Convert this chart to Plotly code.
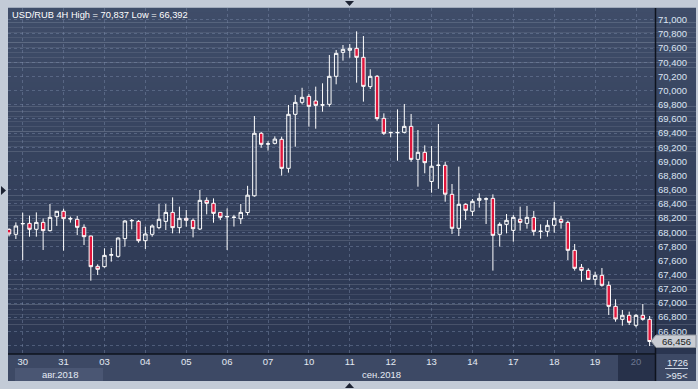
import plotly.graph_objects as go

# ---------------- data (4H bars, USD/RUB) ----------------
opens = [68040, 67970, 68118, 68125, 68041, 68139, 68022, 68219, 68295, 68195,
         68182, 68069, 67946, 67518, 67513, 67675, 67659, 67909, 68160, 68153,
         67880, 67970, 68064, 68153, 68280, 68064, 68196, 68168, 68045, 68450,
         68408, 68280, 68217, 68208, 68190, 68278, 68514, 69397, 69244, 69255,
         69312, 68902, 69665, 69834, 69919, 69853, 69795, 69806, 70202, 70540,
         70569, 70597, 70470, 70056, 70202, 69608, 69404, 69404, 69410, 69495,
         69029, 69128, 68717, 68943, 68945, 68535, 68055, 68394, 68295, 68450,
         68467, 68478, 67970, 68111, 68026, 68182, 68125, 68210, 68010, 68012,
         68097, 68182, 68139, 67744, 67504, 67461, 67334, 67391, 67250, 66953,
         66769, 66826, 66685, 66826, 66769]
highs = [68055, 68139, 68276, 68233, 68280, 68196, 68398, 68300, 68332, 68220,
         68229, 68111, 67950, 67546, 67772, 67777, 67927, 68172, 68186, 68172,
         68078, 68111, 68398, 68398, 68492, 68361, 68314, 68196, 68596, 68492,
         68478, 68285, 68337, 68245, 68398, 68655, 69641, 69415, 69286, 69354,
         69349, 69797, 69938, 70040, 69952, 70056, 70103, 70503, 70573, 70644,
         70658, 70837, 70771, 70301, 70220, 69679, 69420, 69735, 69811, 69670,
         69443, 69227, 69218, 69528, 68996, 68681, 68926, 68408, 68469, 68549,
         68492, 68535, 68139, 68257, 68243, 68361, 68370, 68300, 68111, 68172,
         68427, 68229, 68163, 67833, 67551, 67490, 67442, 67494, 67306, 67052,
         66901, 66878, 66845, 66986, 66816]
lows = [67940, 67904, 67607, 67937, 67937, 67749, 68010, 68088, 67739, 68135,
        67960, 67819, 67315, 67395, 67499, 67584, 67640, 67796, 68040, 67852,
        67763, 67937, 68041, 68031, 67984, 67984, 68078, 67927, 68031, 68252,
        68134, 68172, 67749, 68080, 68116, 68240, 68502, 69194, 69152, 69240,
        68799, 68841, 69208, 69806, 69491, 69462, 69702, 69773, 70089, 70423,
        70465, 70112, 69844, 70023, 69575, 69373, 69340, 69010, 69396, 68996,
        68643, 68832, 68558, 68613, 68431, 67975, 67946, 68172, 68229, 68347,
        68116, 67457, 67796, 67984, 67866, 68022, 68050, 67951, 67909, 67937,
        67993, 68050, 67607, 67457, 67302, 67325, 67254, 67231, 66830, 66736,
        66680, 66689, 66656, 66750, 66392]
closes = [67975, 68088, 68122, 68041, 68139, 68022, 68210, 68295, 68191, 68188,
          68069, 67937, 67513, 67476, 67673, 67682, 67918, 68158, 68166, 67880,
          67975, 68088, 68182, 68280, 68064, 68196, 68168, 68050, 68450, 68408,
          68266, 68210, 68221, 68212, 68280, 68523, 69397, 69241, 69248, 69315,
          68902, 69665, 69834, 69905, 69778, 69792, 69799, 70202, 70526, 70583,
          70597, 70470, 70060, 70202, 69604, 69397, 69408, 69408, 69495, 69029,
          69128, 68982, 68932, 68947, 68537, 68055, 68394, 68309, 68436, 68478,
          68471, 67956, 68111, 68168, 68210, 68139, 68210, 68012, 68014, 68097,
          68196, 68139, 67744, 67490, 67461, 67334, 67391, 67250, 66953, 66774,
          66826, 66727, 66826, 66769, 66456]

day_labels = ["30", "31", "03", "04", "05", "06", "07", "10", "11", "12",
              "13", "14", "17", "18", "19", "20"]
first_day_bar = 2          # two bars of 27 Jul precede the 30 Jul label
bars_per_day = 6
y_ticks = list(range(66400, 71001, 200))
hidden_tick = 66400        # label covered by the last-price marker
title_text = "USD/RUB 4H High = 70,837 Low = 66,392"
last_price = "66,456"
bar_count_text = ">95<"
bar_total_text = "1726"

# ---------------- geometry helpers (pixel -> paper) ----------------
W, H = 698, 389
PL, PR, PT, PB = 8, 655, 8, 354          # plot area in pixels
def fx(px):
    return (px - PL) / (PR - PL)
def fy(py):
    return (PB - py) / (PB - PT)

x_idx = list(range(len(opens)))
tickvals = [first_day_bar + k * bars_per_day for k in range(len(day_labels))]
ticktext = list(day_labels)
ticktext[-1] = '<span style="color:#6c7791">' + ticktext[-1] + '</span>'

fig = go.Figure()
fig.add_trace(go.Candlestick(
    x=x_idx, open=opens, high=highs, low=lows, close=closes,
    increasing=dict(line=dict(color="#ffffff", width=1), fillcolor="rgba(0,0,0,0)"),
    decreasing=dict(line=dict(color="#ffffff", width=1), fillcolor="#e0163c"),
    whiskerwidth=0, hoverinfo="skip", showlegend=False,
))

shapes = []
# gradient background (plot + right axis strip)
top_c = (63, 77, 105)
bot_c = (42, 53, 80)
N = 70
for k in range(N):
    t0 = PT + (PB - PT) * k / N
    t1 = PT + (PB - PT) * (k + 1) / N
    f = (k + 0.5) / N
    c = tuple(round(top_c[j] + (bot_c[j] - top_c[j]) * f) for j in range(3))
    shapes.append(dict(type="rect", xref="paper", yref="paper", layer="below",
                       x0=fx(PL), x1=fx(696), y0=fy(t1), y1=fy(t0) + 0.0005,
                       fillcolor="rgb(%d,%d,%d)" % c, line=dict(width=0)))
# bottom date strip
shapes.append(dict(type="rect", xref="paper", yref="paper", layer="below",
                   x0=fx(PL), x1=fx(696), y0=fy(381), y1=fy(354),
                   fillcolor="#3d4965", line=dict(width=0)))
# month box (aug)
shapes.append(dict(type="rect", xref="paper", yref="paper", layer="below",
                   x0=fx(15), x1=fx(103), y0=fy(381), y1=fy(368),
                   fillcolor="#4a5673", line=dict(width=0)))
# current day dark box
shapes.append(dict(type="rect", xref="paper", yref="paper", layer="below",
                   x0=fx(618), x1=fx(655), y0=fy(381), y1=fy(355),
                   fillcolor="#27314a", line=dict(width=0)))
# separator lines
shapes.append(dict(type="line", xref="paper", yref="paper", layer="above",
                   x0=fx(PL), x1=fx(655.5), y0=fy(354), y1=fy(354),
                   line=dict(color="#0e131d", width=1.5)))
shapes.append(dict(type="line", xref="paper", yref="paper", layer="above",
                   x0=fx(655.5), x1=fx(655.5), y0=fy(PT), y1=fy(381),
                   line=dict(color="#0e131d", width=1.5)))
# bar counter separator
shapes.append(dict(type="line", xref="paper", yref="paper", layer="above",
                   x0=fx(665), x1=fx(688), y0=fy(368.5), y1=fy(368.5),
                   line=dict(color="#c9d3e2", width=1)))
# last price marker box
shapes.append(dict(type="path", xref="paper", yref="paper", layer="above",
                   path="M %f,%f L %f,%f L %f,%f L %f,%f L %f,%f Z" % (
                       fx(651), fy(341), fx(656), fy(335), fx(696), fy(335),
                       fx(696), fy(347.5), fx(656), fy(347.5)),
                   fillcolor="#c9ccd3", line=dict(color="#8e939c", width=1)))
# frame triangles
def tri(points):
    p = "M " + " L ".join("%f,%f" % (fx(a), fy(b)) for a, b in points) + " Z"
    return dict(type="path", xref="paper", yref="paper", layer="above", path=p,
                fillcolor="#1d2333", line=dict(width=0))
shapes.append(tri([(1, 186), (6, 190.5), (1, 195)]))
shapes.append(tri([(345, 1), (354, 1), (349.5, 6)]))
shapes.append(tri([(345, 388), (354, 388), (349.5, 383)]))

annotations = [
    dict(text=title_text, xref="paper", yref="paper", x=fx(10), y=fy(14.5),
         xanchor="left", yanchor="middle", showarrow=False,
         font=dict(family="Liberation Sans, Arial", size=9.3, color="#ffffff")),
    dict(text="авг.2018", xref="paper", yref="paper", x=fx(60), y=fy(374.5),
         xanchor="center", yanchor="middle", showarrow=False,
         font=dict(family="Liberation Sans, Arial", size=9.5, color="#e4eaf3")),
    dict(text="сен.2018", xref="paper", yref="paper", x=fx(381), y=fy(374.5),
         xanchor="center", yanchor="middle", showarrow=False,
         font=dict(family="Liberation Sans, Arial", size=9.5, color="#e4eaf3")),
    dict(text=bar_total_text, xref="paper", yref="paper", x=fx(677), y=fy(362.5),
         xanchor="center", yanchor="middle", showarrow=False,
         font=dict(family="Liberation Sans, Arial", size=9.5, color="#e4eaf3")),
    dict(text=bar_count_text, xref="paper", yref="paper", x=fx(677), y=fy(375),
         xanchor="center", yanchor="middle", showarrow=False,
         font=dict(family="Liberation Sans, Arial", size=9.5, color="#e4eaf3")),
    dict(text=last_price, xref="paper", yref="paper", x=fx(676), y=fy(341.5),
         xanchor="center", yanchor="middle", showarrow=False,
         font=dict(family="Liberation Sans, Arial", size=9.5, color="#1a1c22")),
]

px_per_bar = (636 - 22.7) / 90.0
x0_px = 22.7 - first_day_bar * px_per_bar
xr = [(PL - x0_px) / px_per_bar, (PR - x0_px) / px_per_bar]
v_per_px = 200 / 14.16
yr = [71000 - (PB - 19.8) * v_per_px, 71000 + (19.8 - PT) * v_per_px]

grid_col = "rgba(125,140,170,0.45)"
fig.update_layout(
    width=W, height=H,
    margin=dict(l=PL, r=W - PR, t=PT, b=H - PB, pad=0),
    paper_bgcolor="#c3cbd7", plot_bgcolor="rgba(0,0,0,0)",
    shapes=shapes, annotations=annotations,
    xaxis=dict(range=xr, tickvals=tickvals, ticktext=ticktext,
               showgrid=True, gridcolor=grid_col, griddash="3px,3px", gridwidth=1,
               zeroline=False, showline=False, ticks="",
               tickfont=dict(family="Liberation Sans, Arial", size=9.5, color="#e4eaf3"),
               rangeslider=dict(visible=False), fixedrange=True),
    yaxis=dict(range=yr, side="right", tickvals=y_ticks,
               ticktext=["" if v == hidden_tick else "{:,}".format(v) for v in y_ticks],
               showgrid=True, gridcolor=grid_col, griddash="3px,3px", gridwidth=1,
               zeroline=False, showline=False, ticks="", ticklabelstandoff=2,
               tickfont=dict(family="Liberation Sans, Arial", size=9.5, color="#dbe4f2"),
               fixedrange=True),
    boxgap=0.28,
    showlegend=False,
)

fig.write_html("out.html")
